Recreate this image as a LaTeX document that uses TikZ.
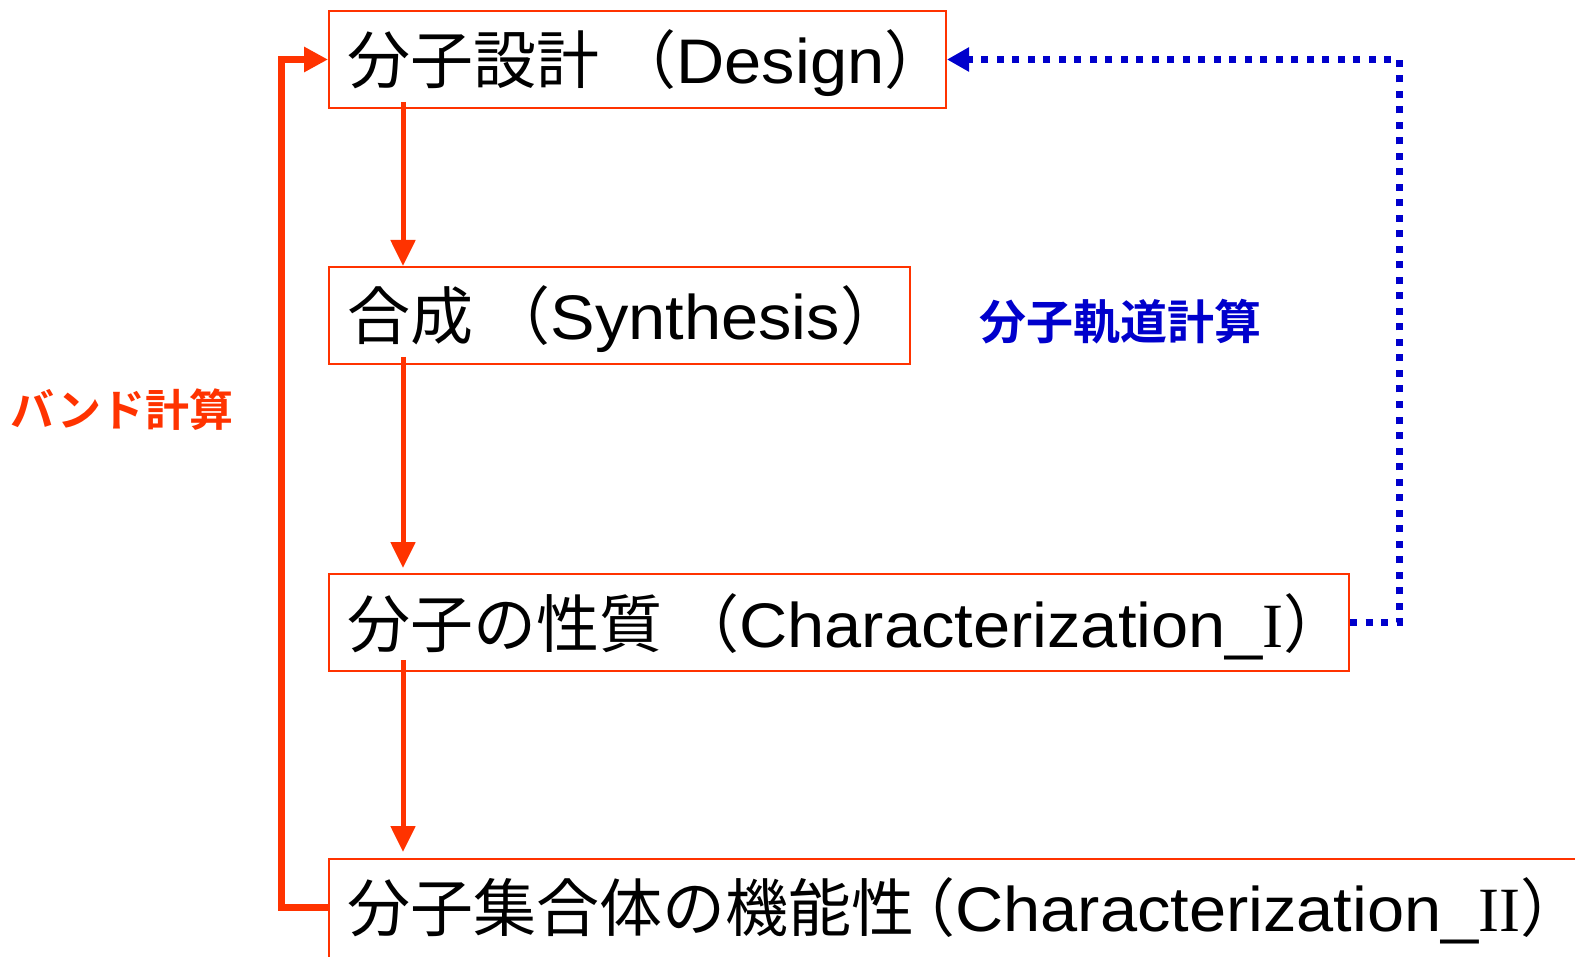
\documentclass[tikz,border=0pt]{standalone}
\usepackage{fontspec}
\newfontfamily\jp{Noto Sans CJK JP}[BoldFont={Noto Sans CJK JP Bold}]
\newfontfamily\latsans{Liberation Sans}[FakeStretch=1.06]
\newfontfamily\rom{Liberation Serif}
\newcommand\lt[1]{{\latsans #1}}
\usetikzlibrary{arrows.meta,calc}
\definecolor{myred}{RGB}{255,51,0}
\definecolor{myblue}{RGB}{0,0,204}
\begin{document}
\begin{tikzpicture}[x=0.5pt,y=-0.5pt,
  box/.style={draw=myred, line width=1pt, anchor=north west, inner sep=0, minimum height=48.5pt},
  lbl/.style={anchor=west, inner sep=0, font=\jp\fontsize{31.5pt}{31.5pt}\selectfont},
  flow/.style={draw=myred, line width=2.5pt, -{Triangle[width=12pt,length=13pt]}},
  loopline/.style={draw=myred, line width=3.5pt, line join=miter, -{Triangle[width=12pt,length=12pt]}},
  dotline/.style={draw=myblue, line width=3.5pt, dash pattern=on 3.5pt off 4.25pt, -{Triangle[width=11.5pt,length=11pt]}},
  note/.style={inner sep=0, font=\jp\bfseries\fontsize{#1}{#1}\selectfont}]
\useasboundingbox (0,0) rectangle (1575,957);
\clip (0,0) rectangle (1575,957);
\node[box, minimum width=308.5pt] (b1) at (328,10) {};
\node[box, minimum width=290.5pt] (b2) at (328,266) {};
\node[box, minimum width=510pt] (b3) at (328,573) {};
\node[box, minimum width=650pt, minimum height=60pt] (b4) at (328,858) {};
\node[lbl] (t1) at ($(b1.west)+(19,4)$) {分子設計 （\lt{Design}）};
\node[lbl] (t2) at ($(b2.west)+(19,4)$) {合成 （\lt{Synthesis}）};
\node[lbl] (t3) at ($(b3.west)+(19,4)$) {分子の性質 （\lt{Characterization\_}{\rom I}）};
\node[lbl] (t4) at ($(b4.north west)+(19,53)$) {分子集合体の機能性\kern-0.35em（\lt{Characterization\_}{\rom II}）};
\draw[flow] ($(b1.south west)+(75,-7)$) -- ($(b2.north west)+(75,0)$);
\draw[flow] ($(b2.south west)+(75,-8)$) -- ($(b3.north west)+(75,-5)$);
\draw[flow] ($(b3.south west)+(75,-12)$) -- ($(b4.north west)+(75,-6)$);
\draw[loopline] ($(b4.north west)+(0,49)$) -- ++(-47,0) |- (b1.west);
\draw[dotline] (b3.east) -- ++(49,0) |- (b1.east);
\node[note=23.5pt, text=myblue] (mo) at (1120,322) {分子軌道計算};
\node[note=22pt, text=myred] (band) at (122,410) {バンド計算};
\end{tikzpicture}
\end{document}
